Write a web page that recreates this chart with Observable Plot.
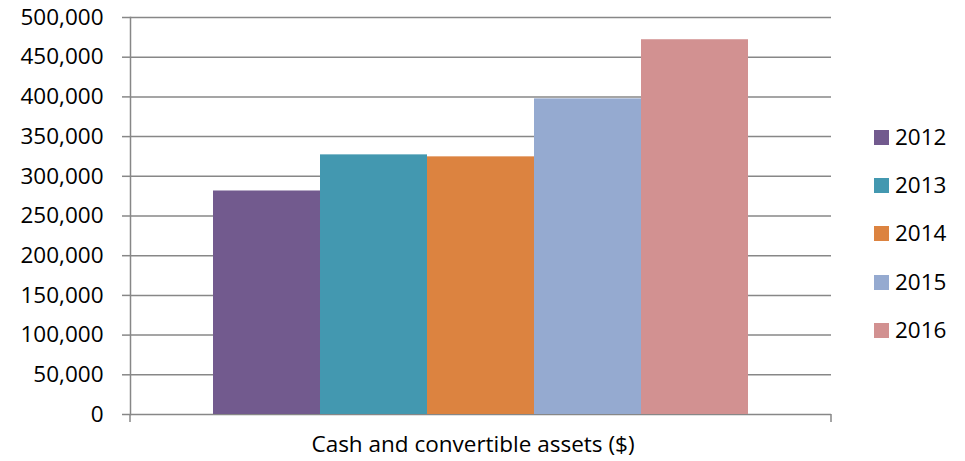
<!DOCTYPE html>
<html><head><meta charset="utf-8">
<script src="https://cdn.jsdelivr.net/npm/d3@7"></script>
<script src="https://cdn.jsdelivr.net/npm/@observablehq/plot@0.6"></script>
<style>
body{margin:0;background:#fff;}
#wrap{position:relative;width:965px;height:461px;font-family:"Open Sans",sans-serif;}
#legend{position:absolute;left:874px;top:113px;}
.row{display:flex;align-items:center;height:48.3px;font-size:22.5px;line-height:1;color:#000;}
.sw{width:15px;height:15px;margin-right:6px;flex:none;}
</style></head><body><div id="wrap"></div>
<script>
const years = ["2012", "2013", "2014", "2015", "2016"];
const values = [281500, 327000, 324500, 397500, 472000];
const yTicks = [0, 50000, 100000, 150000, 200000, 250000, 300000, 350000, 400000, 450000, 500000];
const xLabel = "Cash and convertible assets ($)";
const colors = ["#725A8E", "#4398B0", "#DC8340", "#95AAD0", "#D29191"];
const gridColor = "#878787";

const data = years.map((year, i) => ({year, value: values[i]}));

const chart = Plot.plot({
  width: 965, height: 461,
  marginTop: 17, marginBottom: 47, marginLeft: 130, marginRight: 134,
  style: {fontFamily: '"Open Sans", sans-serif', fontSize: "22.5px", color: "#000", background: "#fff", overflow: "visible"},
  x: {domain: years, paddingInner: 0, paddingOuter: 0.75, axis: null},
  y: {domain: [0, 500000]},
  color: {domain: years, range: colors},
  marks: [
    Plot.ruleY(yTicks, {stroke: gridColor, strokeWidth: 1.5}),
    Plot.barY(data, {x: "year", y: "value", fill: "year"}),
    Plot.frame({anchor: "left", stroke: gridColor, strokeWidth: 1.5}),
    Plot.axisY({ticks: yTicks, tickFormat: d3.format(","), tickSize: 8, tickPadding: 19,
      stroke: gridColor, strokeWidth: 1.5, fill: "#000", label: null, fontSize: 22.5}),
    Plot.text([xLabel], {frameAnchor: "bottom", lineAnchor: "middle", text: d => d, dy: 30, dx: -8, fontSize: 22.5, fill: "#000"})
  ]
});

// tick marks at the two ends of the category axis, from the library's scales
const xr = chart.scale("x").range;
const y0 = chart.scale("y").apply(0);
const g = d3.select(chart).append("g").attr("stroke", gridColor).attr("stroke-width", 1.5);
[xr[0], xr[1]].forEach(x => {
  g.append("line").attr("x1", x).attr("x2", x).attr("y1", y0).attr("y2", y0 + 8);
});

const wrap = document.getElementById("wrap");
wrap.appendChild(chart);

const colorScale = chart.scale("color");
const legend = document.createElement("div");
legend.id = "legend";
years.forEach(y => {
  const row = document.createElement("div");
  row.className = "row";
  const sw = document.createElement("div");
  sw.className = "sw";
  sw.style.background = colorScale.apply(y);
  const t = document.createElement("span");
  t.textContent = y;
  row.appendChild(sw);
  row.appendChild(t);
  legend.appendChild(row);
});
wrap.appendChild(legend);
</script>
</body></html>
